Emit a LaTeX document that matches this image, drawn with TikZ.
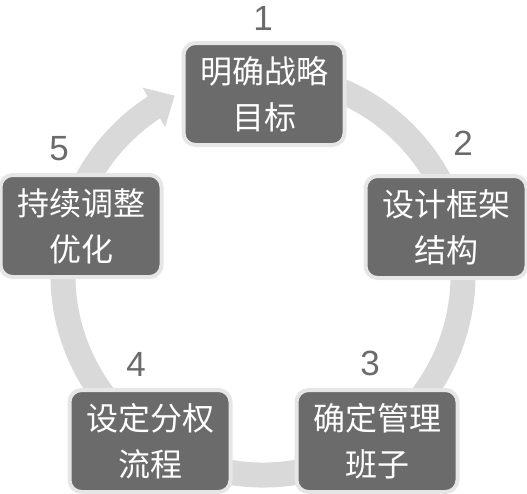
\documentclass[tikz,border=0pt]{standalone}
\usepackage{fontspec}
\setmainfont{Liberation Sans}
\newfontfamily\cjk{Noto Sans CJK SC}
\usetikzlibrary{arrows.meta,bending}
\definecolor{boxfill}{HTML}{6B6B6B}
\definecolor{boxrim}{HTML}{E6E6E6}
\definecolor{arcgray}{HTML}{D9D9D9}
\definecolor{numgray}{HTML}{6B6B6B}
\tikzset{
  stepbox/.style={draw=boxrim, line width=4pt, fill=boxfill, rounded corners=12pt,
    minimum width=161pt, minimum height=102pt, inner sep=0pt, align=center,
    text=white, font=\cjk\fontsize{32}{46}\selectfont},
  numlabel/.style={text=numgray, font=\fontsize{35}{35}\selectfont, inner sep=0pt},
  ring/.style={draw=arcgray, line width=25pt, -{Triangle[width=44pt,length=24pt,flex]}}
}
\begin{document}
\begin{tikzpicture}[x=1pt,y=-1pt]
\useasboundingbox (0,0) rectangle (527,493);
\coordinate (c) at (263,275);
\draw[ring] ([shift={(-75:200)}]c) arc[start angle=-75, end angle=243.8, radius=200];
\node[stepbox] (s1) at (264,94) {明确战略\\目标};
\node[stepbox] (s2) at (446,227) {设计框架\\结构};
\node[stepbox] (s3) at (377,441) {确定管理\\班子};
\node[stepbox] (s4) at (150,441) {设定分权\\流程};
\node[stepbox] (s5) at (81,226) {持续调整\\优化};
\node[numlabel] (n1) at (263,18) {1};
\node[numlabel] (n2) at (463,143) {2};
\node[numlabel] (n3) at (370,363) {3};
\node[numlabel] (n4) at (136,364) {4};
\node[numlabel] (n5) at (59,149) {5};
\end{tikzpicture}
\end{document}
